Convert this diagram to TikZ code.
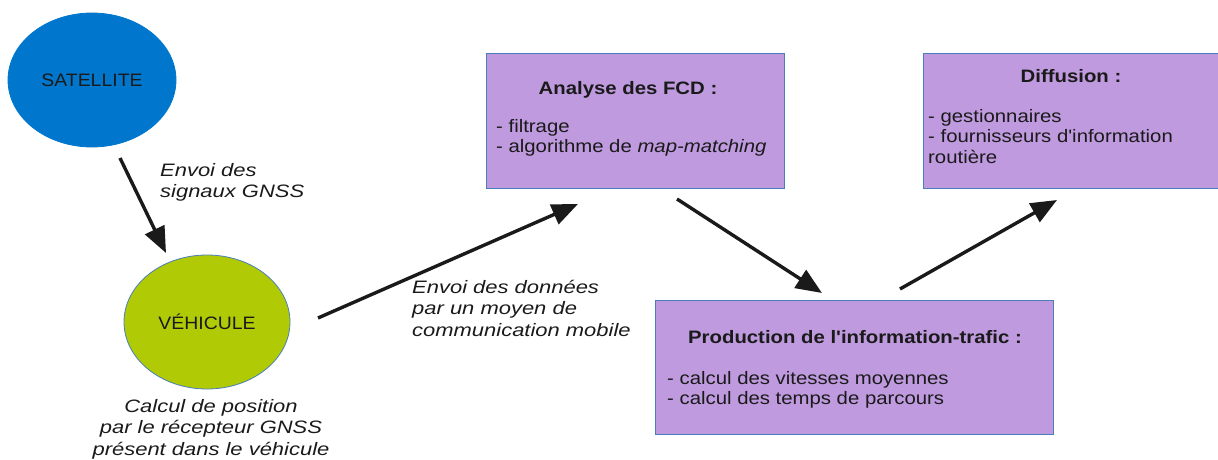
\documentclass[tikz,border=0pt]{standalone}
\usepackage{fontspec}
\setmainfont{Liberation Sans}[Ligatures=TeXOff]
\newfontfamily\boxfont{Liberation Sans}[Ligatures=TeXOff, FakeStretch=1.13]
\newfontfamily\notefont{Liberation Sans}[Ligatures=TeXOff, FakeStretch=1.22]
\newfontfamily\blobfont{Liberation Sans}[Ligatures=TeXOff, FakeStretch=1.08]
\usetikzlibrary{shapes.geometric,arrows.meta,positioning}
\definecolor{satblue}{HTML}{0077CC}
\definecolor{vehgreen}{HTML}{B0CB05}
\definecolor{boxfill}{HTML}{BF9ADF}
\definecolor{boxline}{HTML}{4A7EBB}
\definecolor{ink}{HTML}{1A1A1A}
\tikzset{
  blob/.style={ellipse, draw=boxline, line width=0.8pt, text=ink, font=\blobfont\fontsize{18}{21}\selectfont},
  panel/.style={rectangle, draw=boxline, line width=1.2pt, fill=boxfill, anchor=north west},
  ptitle/.style={text=ink, font=\boxfont\bfseries\fontsize{18}{21}\selectfont, inner sep=0pt},
  plist/.style={text=ink, font=\boxfont\fontsize{18}{20.5}\selectfont, align=left, anchor=north west, inner sep=0pt},
  note/.style={text=ink, font=\notefont\itshape\fontsize{18}{21.5}\selectfont, inner sep=0pt},
  flow/.style={line width=3.4pt, -{Triangle[length=26pt,width=21pt]}, ink}
}
\begin{document}
\begin{tikzpicture}[x=1pt,y=-1pt]
\useasboundingbox (0,0) rectangle (1218,460);
% ellipses
\node[blob, fill=satblue, draw=satblue, minimum width=168pt, minimum height=134pt] (sat) at (92,80) {SATELLITE};
\node[blob, fill=vehgreen, minimum width=166pt, minimum height=134pt] (veh) at (207,322) {VÉHICULE};
% panels
\node[panel, minimum width=298pt, minimum height=135pt] (fcd) at (486,53) {};
\node[panel, minimum width=300pt, minimum height=135pt] (dif) at (923,53) {};
\node[panel, minimum width=398pt, minimum height=134pt] (prod) at (655,300) {};
% panel texts
\node[ptitle] (fcdt) at (628,90) {Analyse des FCD :};
\node[plist] (fcdl) at (496,119) {- filtrage\\- algorithme de \textit{map-matching}};
\node[ptitle] (dift) at (1071,76) {Diffusion :};
\node[plist] (difl) at (928,109) {- gestionnaires\\- fournisseurs d'information\\routière};
\node[ptitle] (prodt) at (855,337) {Production de l'information-trafic :};
\node[plist] (prodl) at (667,371) {- calcul des vitesses moyennes\\- calcul des temps de parcours};
% notes
\node[note, align=left, anchor=north west] (n1) at (160,163) {Envoi des\\signaux GNSS};
\node[note, align=left, anchor=north west] (n2) at (412,280) {Envoi des données\\par un moyen de\\communication mobile};
\node[note, align=center] (n3) at (211,429) {Calcul de position\\par le récepteur GNSS\\présent dans le véhicule};
% connector ends
\coordinate (a1s) at (120,158); \coordinate (a1e) at (166,253);
\coordinate (a2s) at (318,318); \coordinate (a2e) at (578,204);
\coordinate (a3s) at (677,199); \coordinate (a3e) at (822,293);
\coordinate (a4s) at (900,289); \coordinate (a4e) at (1057,200);
\draw[flow] (a1s) -- (a1e);
\draw[flow] (a2s) -- (a2e);
\draw[flow] (a3s) -- (a3e);
\draw[flow] (a4s) -- (a4e);
\end{tikzpicture}
\end{document}
